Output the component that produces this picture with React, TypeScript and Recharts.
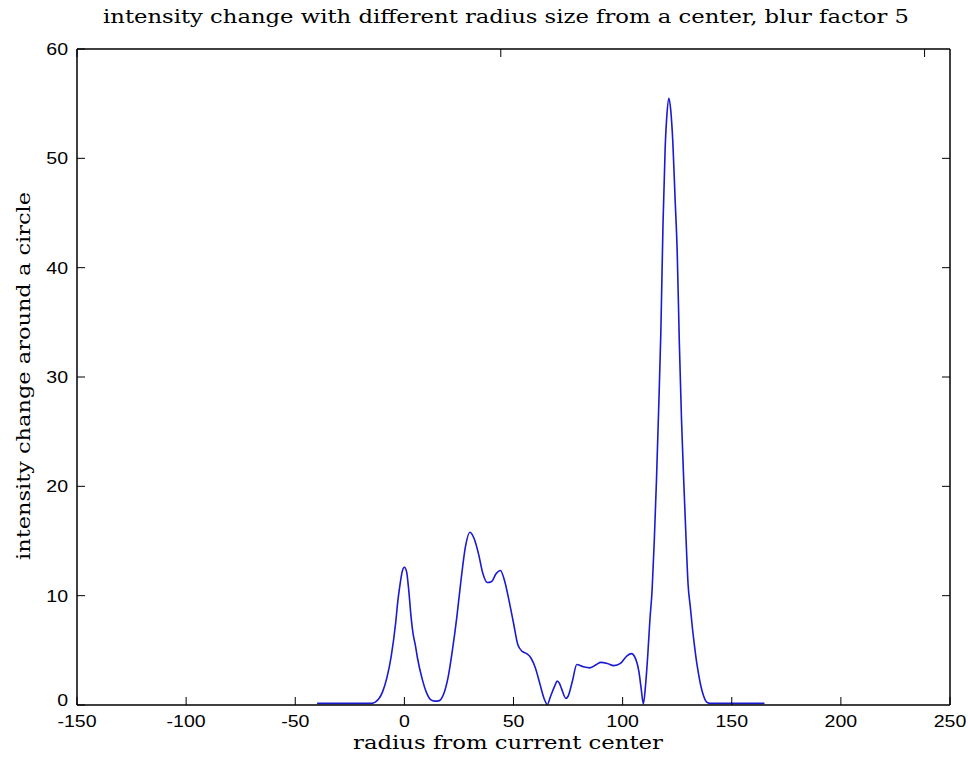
import { LineChart, Line, XAxis, YAxis } from 'recharts';

// radius from current center (x) and intensity change (y)
const radius = [
  -40, -30, -20, -15, -12, -10, -8, -6, -4, -3, -2, -1, 0, 1, 2, 3, 4, 5, 6, 8, 10, 12, 14, 16, 18,
  20, 22, 24, 26, 28, 30, 32, 34, 36, 38, 40, 42, 44, 46, 48, 50, 52, 54, 56, 58, 60, 62, 64, 65.5,
  67, 69, 70, 71, 72, 74, 75, 77, 79, 82, 85, 88, 90, 93, 96, 99, 102, 104, 106, 107.5, 108.5,
  109.5, 110.5, 111.5, 112.5, 113.5, 114.5, 115.5, 116.5, 117.5, 118.5, 119.5, 120.3, 121.2, 122,
  123, 124, 125, 126, 127, 128, 129, 130, 131, 132, 133, 134, 135, 136, 137, 138, 139, 140, 150, 165,
];
const intensity = [
  0.15, 0.15, 0.15, 0.15, 0.5, 1.2, 2.5, 4.5, 7.5, 9.5, 11, 12.2, 12.6, 12.2, 10.5, 8.2, 6.5, 5.5,
  4.3, 2.5, 1.2, 0.5, 0.35, 0.4, 1.0, 2.5, 5, 8, 11.5, 14.5, 15.8, 15.2, 13.8, 12, 11.2, 11.3, 12,
  12.3, 11.3, 9.5, 7.5, 5.5, 4.9, 4.7, 4.3, 3.4, 2.0, 0.6, 0.05, 0.8, 1.8, 2.2, 2.0, 1.5, 0.6, 0.8,
  2.2, 3.7, 3.5, 3.4, 3.7, 3.9, 3.8, 3.6, 3.8, 4.5, 4.7, 4.2, 3, 1.5, 0.1, 1.8, 4.5, 7.8, 10.5, 15,
  20.5, 27, 34, 44, 51, 54, 55.5, 54.5, 51.5, 46.5, 41.5, 33, 26, 20.5, 15.5, 11, 9, 7, 5.3, 3.8,
  2.6, 1.6, 0.9, 0.4, 0.2, 0.15, 0.15, 0.15,
];
const xTicks = [-150, -100, -50, 0, 50, 100, 150, 200, 250];
const yTicks = [0, 10, 20, 30, 40, 50, 60];

const data = radius.map((r, i) => ({ r, v: intensity[i] }));

const tickFont = { fontFamily: 'Liberation Sans, Arial, sans-serif', fontSize: 17, fill: '#000' };
const labelFont = 'DejaVu Serif, Liberation Serif, serif';

const BottomTick = ({ x, y, payload }: any) => (
  <g>
    <line x1={x} y1={y} x2={x} y2={y - 8} stroke="#000" />
    <text {...tickFont} textAnchor="middle" transform={`translate(${x},${y + 22}) scale(1.15,1)`}>
      {payload.value}
    </text>
  </g>
);

// the bottom label sits a little higher, as in the original
const LeftTick = ({ x, y, payload }: any) => (
  <g>
    <line x1={x} y1={y} x2={x + 8} y2={y} stroke="#000" />
    <text
      {...tickFont}
      textAnchor="end"
      transform={`translate(${x - 9},${payload.value === 0 ? y + 1 : y + 6}) scale(1.15,1)`}
    >
      {payload.value}
    </text>
  </g>
);

const TopTick = ({ x, y }: any) => <line x1={x} y1={y} x2={x} y2={y + 8} stroke="#000" />;
const RightTick = ({ x, y }: any) => <line x1={x} y1={y} x2={x - 8} y2={y} stroke="#000" />;

export default function App() {
  return (
    <div style={{ position: 'absolute', left: 0, top: 0, width: 968, height: 757, background: '#fff', overflow: 'hidden' }}>
      <LineChart width={968} height={757} data={data} margin={{ top: 48, right: 17, bottom: 0, left: 0 }}>
        <XAxis
          dataKey="r"
          type="number"
          domain={[-150, 250]}
          ticks={xTicks}
          allowDataOverflow
          height={52}
          tickSize={0}
          tickMargin={0}
          tickLine={false}
          axisLine={{ stroke: '#000', strokeWidth: 1.5 }}
          tick={<BottomTick />}
          interval={0}
        />
        <XAxis
          xAxisId="top"
          orientation="top"
          type="number"
          domain={[-150, 250]}
          ticks={xTicks.slice(1, -1)}
          allowDataOverflow
          height={1}
          tickSize={0}
          tickMargin={0}
          tickLine={false}
          axisLine={{ stroke: '#000', strokeWidth: 1.5 }}
          tick={<TopTick />}
          interval={0}
        />
        <YAxis
          type="number"
          domain={[0, 60]}
          ticks={yTicks}
          allowDataOverflow
          width={77}
          tickSize={0}
          tickMargin={0}
          tickLine={false}
          axisLine={{ stroke: '#000', strokeWidth: 1.5 }}
          tick={<LeftTick />}
          interval={0}
        />
        <YAxis
          yAxisId="right"
          orientation="right"
          type="number"
          domain={[0, 60]}
          ticks={yTicks.slice(1, -1)}
          allowDataOverflow
          width={1}
          tickSize={0}
          tickMargin={0}
          tickLine={false}
          axisLine={{ stroke: '#000', strokeWidth: 1.5 }}
          tick={<RightTick />}
          interval={0}
        />
        <Line
          type="monotone"
          dataKey="v"
          stroke="#1a1ad0"
          strokeWidth={1.6}
          dot={false}
          isAnimationActive={false}
        />
      </LineChart>
      <svg
        width={968}
        height={757}
        style={{ position: 'absolute', left: 0, top: 0, pointerEvents: 'none' }}
      >
        <text x={506} y={23} textAnchor="middle" fontFamily={labelFont} fontSize={19} textLength={806} lengthAdjust="spacingAndGlyphs">
          intensity change with different radius size from a center, blur factor 5
        </text>
        <text x={508} y={749} textAnchor="middle" fontFamily={labelFont} fontSize={19} textLength={310} lengthAdjust="spacingAndGlyphs">
          radius from current center
        </text>
        <text
          x={0}
          y={0}
          transform="translate(30,376) rotate(-90)"
          textAnchor="middle"
          fontFamily={labelFont}
          fontSize={19}
          textLength={368}
          lengthAdjust="spacingAndGlyphs"
        >
          intensity change around a circle
        </text>
      </svg>
    </div>
  );
}
